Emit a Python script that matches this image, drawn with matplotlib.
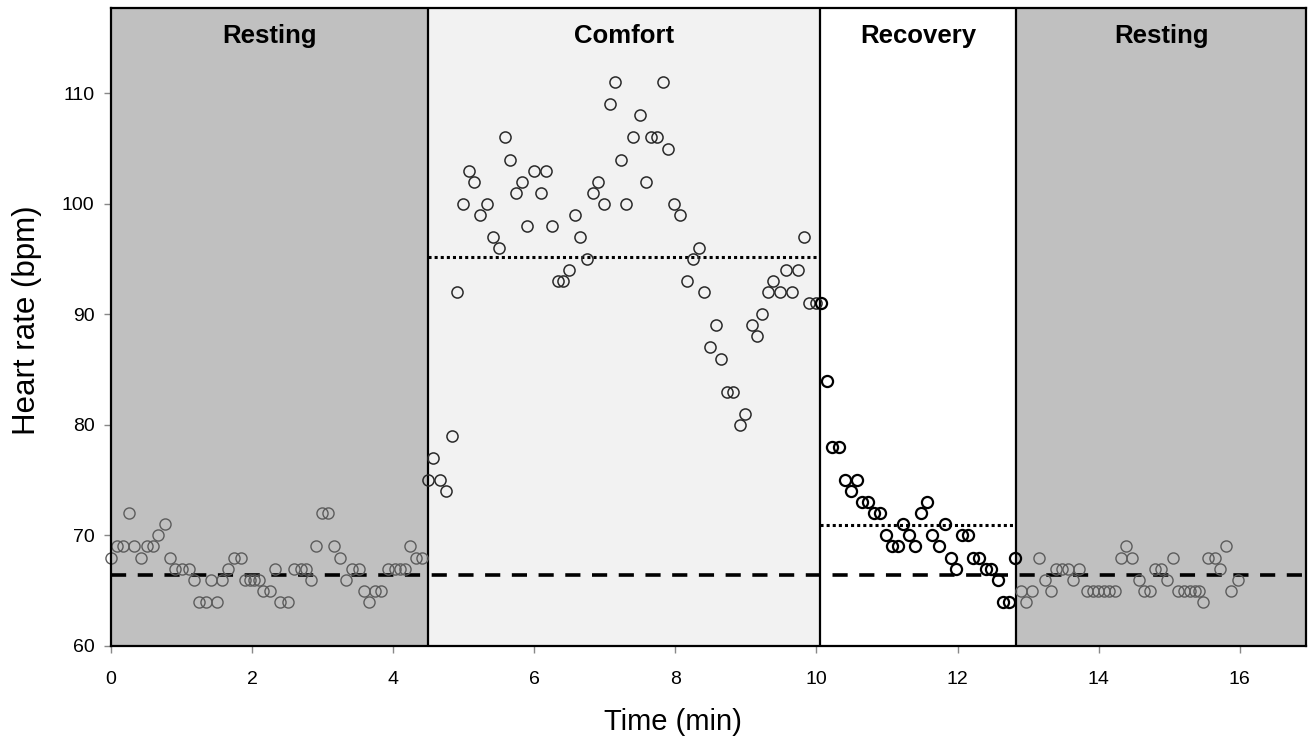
import matplotlib
matplotlib.use("Agg")
import matplotlib.pyplot as plt

plt.rcParams['font.family'] = ['Liberation Sans', 'DejaVu Sans']

# phase limits (min) and names
phase_edges = [0.0, 4.49, 10.05, 12.83, 16.94]
phase_names = ["Resting", "Comfort", "Recovery", "Resting"]
phase_colors = ["#c0c0c0", "#f2f2f2", "#ffffff", "#c0c0c0"]

# heart rate samples
rest1_t = [0.00, 0.08, 0.17, 0.25, 0.33, 0.43, 0.51, 0.59, 0.67, 0.76,
           0.83, 0.91, 1.00, 1.10, 1.17, 1.25, 1.34, 1.42, 1.50, 1.57,
           1.66, 1.74, 1.84, 1.90, 1.97, 2.03, 2.10, 2.16, 2.25, 2.33,
           2.40, 2.51, 2.60, 2.69, 2.76, 2.83, 2.91, 2.99, 3.08, 3.16,
           3.25, 3.33, 3.41, 3.51, 3.58, 3.65, 3.74, 3.82, 3.93, 4.02,
           4.10, 4.17, 4.24, 4.33, 4.41]
rest1_hr = [68, 69, 69, 72, 69, 68, 69, 69, 70, 71,
            68, 67, 67, 67, 66, 64, 64, 66, 64, 66,
            67, 68, 68, 66, 66, 66, 66, 65, 65, 67,
            64, 64, 67, 67, 67, 66, 69, 72, 72, 69,
            68, 66, 67, 67, 65, 64, 65, 65, 67, 67,
            67, 67, 69, 68, 68]

comfort_t = [4.49, 4.57, 4.67, 4.75, 4.83, 4.91, 4.99, 5.07, 5.15, 5.23,
             5.33, 5.41, 5.50, 5.58, 5.66, 5.74, 5.82, 5.90, 5.99, 6.09,
             6.16, 6.25, 6.33, 6.41, 6.49, 6.57, 6.65, 6.75, 6.83, 6.91,
             6.99, 7.07, 7.15, 7.23, 7.30, 7.40, 7.50, 7.58, 7.66, 7.74,
             7.82, 7.90, 7.98, 8.06, 8.16, 8.25, 8.33, 8.41, 8.49, 8.57,
             8.65, 8.73, 8.81, 8.91, 8.99, 9.08, 9.15, 9.23, 9.31, 9.39,
             9.48, 9.57, 9.66, 9.74, 9.82, 9.90, 9.99]
comfort_hr = [75, 77, 75, 74, 79, 92, 100, 103, 102, 99,
              100, 97, 96, 106, 104, 101, 102, 98, 103, 101,
              103, 98, 93, 93, 94, 99, 97, 95, 101, 102,
              100, 109, 111, 104, 100, 106, 108, 102, 106, 106,
              111, 105, 100, 99, 93, 95, 96, 92, 87, 89,
              86, 83, 83, 80, 81, 89, 88, 90, 92, 93,
              92, 94, 92, 94, 97, 91, 91]

recovery_t = [10.06, 10.15, 10.22, 10.32, 10.41, 10.49, 10.57, 10.65, 10.73, 10.82,
              10.90, 10.99, 11.07, 11.16, 11.23, 11.31, 11.40, 11.48, 11.56, 11.64,
              11.74, 11.82, 11.91, 11.98, 12.07, 12.15, 12.22, 12.31, 12.40, 12.48,
              12.57, 12.65, 12.73, 12.81]
recovery_hr = [91, 84, 78, 78, 75, 74, 75, 73, 73, 72,
               72, 70, 69, 69, 71, 70, 69, 72, 73, 70,
               69, 71, 68, 67, 70, 70, 68, 68, 67, 67,
               66, 64, 64, 68]

rest2_t = [12.90, 12.97, 13.06, 13.16, 13.24, 13.32, 13.40, 13.48, 13.56, 13.64,
           13.72, 13.83, 13.92, 13.99, 14.07, 14.15, 14.23, 14.31, 14.39, 14.47,
           14.57, 14.65, 14.73, 14.80, 14.89, 14.97, 15.05, 15.13, 15.21, 15.29,
           15.36, 15.42, 15.48, 15.55, 15.65, 15.72, 15.81, 15.88, 15.98]
rest2_hr = [65, 64, 65, 68, 66, 65, 67, 67, 67, 66,
            67, 65, 65, 65, 65, 65, 65, 68, 69, 68,
            66, 65, 65, 67, 67, 66, 68, 65, 65, 65,
            65, 65, 64, 68, 68, 67, 69, 65, 66]

# mean levels
rest_mean = 66.4
comfort_mean = 95.2
recovery_mean = 70.9

fig = plt.figure(figsize=(13.08, 7.37), dpi=100)
ax = fig.add_axes([0.0849, 0.1235, 0.9136, 0.8655])

for i, name in enumerate(phase_names):
    x0, x1 = phase_edges[i], phase_edges[i + 1]
    ax.axvspan(x0, x1, color=phase_colors[i], zorder=0, lw=0)
    ax.text((x0 + x1) / 2, 115.2, name, ha="center", va="center",
            fontsize=18.5, fontweight="bold")
for x in phase_edges[1:-1]:
    ax.axvline(x, color="black", lw=1.6, zorder=1)

ax.plot([phase_edges[0], phase_edges[-1]], [rest_mean, rest_mean], color="black",
        lw=2.6, dashes=(4.2, 3.2), zorder=2)
ax.plot([phase_edges[1], phase_edges[2]], [comfort_mean, comfort_mean], color="black",
        lw=2.2, dashes=(1, 1), zorder=2)
ax.plot([phase_edges[2], phase_edges[3]], [recovery_mean, recovery_mean], color="black",
        lw=2.2, dashes=(1, 1), zorder=2)

mk = dict(ls="none", marker="o", ms=8, mfc="none", zorder=3, clip_on=False)
ax.plot(rest1_t, rest1_hr, mec="#5c5c5c", mew=1.0, **mk)
ax.plot(rest2_t, rest2_hr, mec="#5c5c5c", mew=1.0, **mk)
ax.plot(comfort_t, comfort_hr, mec="#2a2a2a", mew=1.1, **mk)
ax.plot(recovery_t, recovery_hr, mec="black", mew=1.6, **mk)

ax.set_xlim(0, 16.94)
ax.set_ylim(60, 117.7)
ax.set_xticks([0, 2, 4, 6, 8, 10, 12, 14, 16])
ax.set_yticks([60, 70, 80, 90, 100, 110])
ax.tick_params(axis="both", labelsize=14, color="#888888", length=5, width=1)
ax.tick_params(axis="x", pad=13)
ax.tick_params(axis="y", pad=7)
for sp in ax.spines.values():
    sp.set_linewidth(1.6)
    sp.set_zorder(4)

ax.set_xlabel("Time (min)", fontsize=21)
ax.xaxis.set_label_coords(0.470, -0.098)
ax.set_ylabel("Heart rate (bpm)", fontsize=22.5)
ax.yaxis.set_label_coords(-0.058, 0.511)

fig.savefig("out.png", dpi=100)
